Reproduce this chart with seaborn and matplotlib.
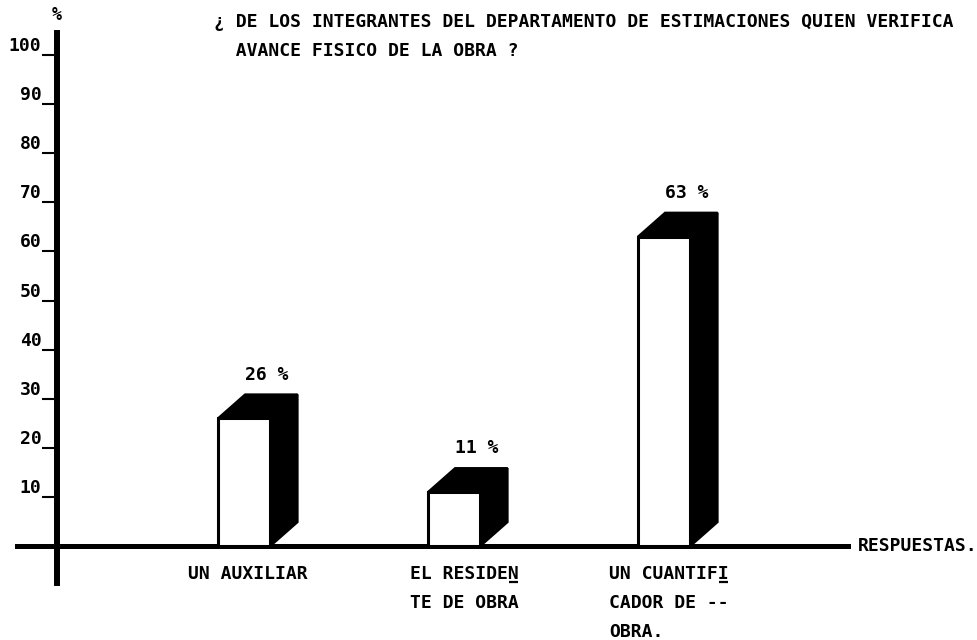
"""Typewriter-style 3D bar chart: who verifies the physical progress of the work."""
import matplotlib
matplotlib.use("Agg")
import seaborn as sns
import matplotlib.pyplot as plt
import pandas as pd
from matplotlib.patches import Polygon

# Data
categories = ["UN AUXILIAR", "EL RESIDEN\nTE DE OBRA", "UN CUANTIFI\nCADOR DE --\nOBRA."]
values = [26, 11, 63]
value_labels = ["26 %", "11 %", "63 %"]
y_ticks = [10, 20, 30, 40, 50, 60, 70, 80, 90, 100]
title = ("\u00bf DE LOS INTEGRANTES DEL DEPARTAMENTO DE ESTIMACIONES QUIEN VERIFICA\n"
         "  AVANCE FISICO DE LA OBRA ?")
x_title = "RESPUESTAS."
y_title = "%"
# typewriter hyphenation: index of the underlined letter on the first line
hyphen_char = [None, 9, 10]

# Style
sns.set_theme(style="white")
plt.rcParams["font.family"] = ["DejaVu Sans Mono", "DejaVu Sans"]
plt.rcParams["font.weight"] = "bold"
plt.rcParams["text.color"] = "black"
FS = 13
LS = 1.8
DX, DY = 0.13, 4.9          # 3D depth in data units
label_dx = [-0.267, -0.21, -0.262]  # left edge of category labels, relative to bar
LABEL_Y = -3.8
UNDERLINE_Y = -7.3

df = pd.DataFrame({"Respuesta": categories, "Porcentaje": values})

fig = plt.figure(figsize=(9.78, 6.4), dpi=100)
ax = fig.add_axes([0, 0, 1, 1])

sns.barplot(data=df, x="Respuesta", y="Porcentaje", order=categories,
            color="white", saturation=1, edgecolor="black", linewidth=2.2,
            width=0.25, ax=ax, zorder=3)

ax.set_xlim(-1.162, 3.495)
ax.set_ylim(-19.1, 111.2)

# 3D top and side faces, built from each bar
for p in ax.patches:
    x0 = p.get_x()
    x1 = x0 + p.get_width()
    h = p.get_height()
    top = Polygon([(x0, h), (x0 + DX, h + DY), (x1 + DX, h + DY), (x1, h)],
                  closed=True, fc="black", ec="black", lw=1.5, zorder=2)
    side = Polygon([(x1, h), (x1 + DX, h + DY), (x1 + DX, DY), (x1, 0)],
                   closed=True, fc="black", ec="black", lw=1.5, zorder=2)
    ax.add_patch(top)
    ax.add_patch(side)

# Axes lines
ax.spines["top"].set_visible(False)
ax.spines["right"].set_visible(False)
ax.spines["left"].set_position(("data", -0.89))
ax.spines["left"].set_bounds(-7.5, 104.5)
ax.spines["left"].set_linewidth(4.3)
ax.spines["left"].set_color("black")
ax.spines["bottom"].set_position(("data", 0))
ax.spines["bottom"].set_bounds(-1.081, 2.876)
ax.spines["bottom"].set_linewidth(3.6)
ax.spines["bottom"].set_color("black")

ax.set_yticks(y_ticks)
ax.tick_params(axis="y", left=True, direction="out", length=10.8, width=1.5,
               pad=0.5, labelsize=FS, colors="black")
for lbl in ax.get_yticklabels():
    lbl.set_va("bottom")
    lbl.set_fontweight("bold")
ax.set_xticks([])
ax.set_xlabel("")
ax.set_ylabel("")

# Category labels under the axis
cat_texts = []
for i, (cat, dxl) in enumerate(zip(categories, label_dx)):
    t = ax.text(i + dxl, LABEL_Y, cat, ha="left", va="top", fontsize=FS,
                fontweight="bold", linespacing=LS)
    cat_texts.append(t)

# Underline the hyphenated letter (monospace: measure one character width)
fig.canvas.draw()
renderer = fig.canvas.get_renderer()
px_per_x = ax.transData.transform((1, 0))[0] - ax.transData.transform((0, 0))[0]
for i, (t, cat, ci) in enumerate(zip(cat_texts, categories, hyphen_char)):
    if ci is None:
        continue
    ext = t.get_window_extent(renderer)
    cw = ext.width / max(len(s) for s in cat.split("\n")) / px_per_x
    xs = i + label_dx[i] + ci * cw
    ax.plot([xs + 0.1 * cw, xs + 0.9 * cw], [UNDERLINE_Y, UNDERLINE_Y],
            color="black", lw=1.6, solid_capstyle="butt")

# Value labels above bars
for i, (v, lab) in enumerate(zip(values, value_labels)):
    ax.text(i + 0.11, v + DY + 4, lab, ha="center", va="center",
            fontsize=FS, fontweight="bold")

ax.text(-0.89, 108.1, y_title, ha="center", va="center", fontsize=FS - 1,
        fontweight="bold")
ax.text(2.924, 0, x_title, ha="left", va="center", fontsize=FS,
        fontweight="bold")

fig.text(214 / 978, 1 - 13 / 640, title, ha="left", va="top", fontsize=FS,
         fontweight="bold", linespacing=LS)

fig.savefig("out.png", dpi=100, facecolor="white")
plt.close(fig)
